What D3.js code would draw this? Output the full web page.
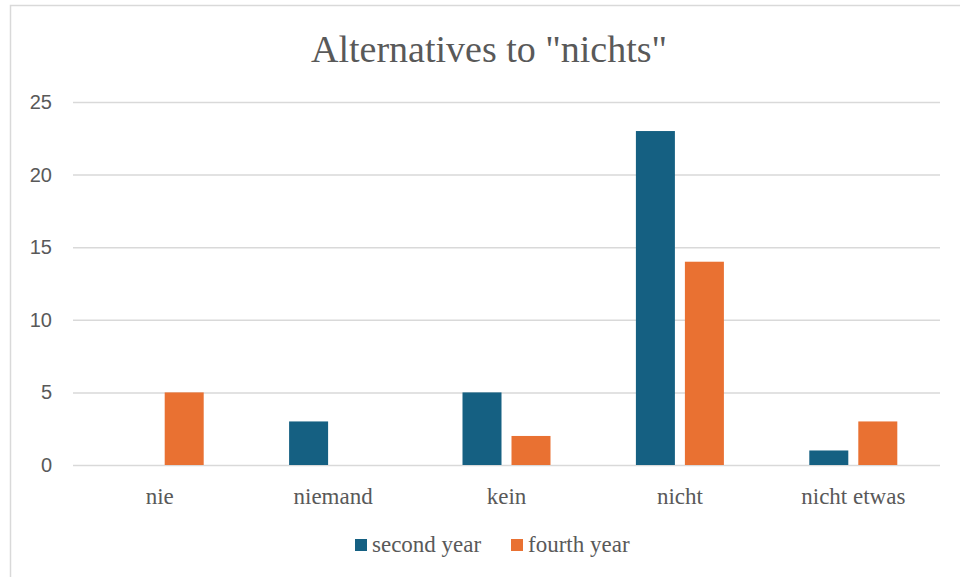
<!DOCTYPE html>
<html><head><meta charset="utf-8">
<script src="https://cdn.jsdelivr.net/npm/d3@7"></script>
<style>
html,body{margin:0;padding:0;background:#fff;overflow:hidden}
.serif{font-family:"Liberation Serif","Times New Roman",serif}
.sans{font-family:"Liberation Sans",Arial,sans-serif}
</style>
</head><body>
<svg id="c" width="960" height="577"></svg>
<script>
const categories = ["nie", "niemand", "kein", "nicht", "nicht etwas"];
const seriesNames = ["second year", "fourth year"];
const secondYear = [0, 3, 5, 23, 1];
const fourthYear = [5, 0, 2, 14, 3];
const yTicks = [0, 5, 10, 15, 20, 25];
const colors = ["#156082", "#E97132"];
const titleText = 'Alternatives to "nichts"';

(function () {
const svg = d3.select("#c");
svg.append("rect").attr("x", 10.5).attr("y", 5.5).attr("width", 1000).attr("height", 1000)
  .attr("fill", "#fff").attr("stroke", "#D9D9D9").attr("stroke-width", 1.5);

const mLeft = 73, mRight = 940, mTop = 102, mBottom = 465;
const x0 = d3.scaleBand().domain(categories).range([mLeft, mRight]).paddingInner(0.4925).paddingOuter(0.4925/2);
const x1 = d3.scaleBand().domain(seriesNames).range([0, x0.bandwidth()]).paddingInner(10/49).paddingOuter(0);
const y = d3.scaleLinear().domain([0, 25]).range([mBottom, mTop]);

const yAxis = d3.axisLeft(y).tickValues(yTicks).tickSize(-(mRight - mLeft)).tickPadding(21).tickFormat(d3.format("d"));
const ga = svg.append("g").attr("transform", `translate(${mLeft},0)`).call(yAxis);
ga.attr("font-family", null).attr("font-size", null);
ga.select(".domain").remove();
ga.selectAll(".tick line").attr("stroke", "#D9D9D9").attr("stroke-width", 1.5);
ga.selectAll(".tick text").attr("class", "sans").attr("fill", "#595959").style("font-size", "20px");

const data = categories.map((c, i) => ({cat: c, vals: [secondYear[i], fourthYear[i]]}));
const groups = svg.append("g").selectAll("g").data(data).join("g")
  .attr("transform", d => `translate(${x0(d.cat)},0)`);
groups.selectAll("rect").data(d => d.vals.map((v, j) => ({s: seriesNames[j], v, j})).filter(e => e.v > 0))
  .join("rect")
  .attr("x", e => x1(e.s)).attr("width", x1.bandwidth())
  .attr("y", e => y(e.v)).attr("height", e => y(0) - y(e.v))
  .attr("fill", e => colors[e.j]);

const xAxis = d3.axisBottom(x0).tickSize(0).tickPadding(23);
const gx = svg.append("g").attr("transform", `translate(0,${mBottom})`).call(xAxis);
gx.attr("font-family", null).attr("font-size", null);
gx.select(".domain").remove();
gx.selectAll(".tick text").attr("class", "serif").attr("fill", "#595959").style("font-size", "23px");

svg.append("text").attr("class", "serif").attr("x", 489).attr("y", 62).attr("text-anchor", "middle")
  .attr("fill", "#595959").style("font-size", "38px")
  .text(titleText);

const legendX = [355, 511];
const lg = svg.append("g").selectAll("g").data(seriesNames).join("g")
  .attr("transform", (d, i) => `translate(${legendX[i]},539)`);
lg.append("rect").attr("width", 12).attr("height", 12).attr("fill", (d, i) => colors[i]);
lg.append("text").attr("class", "serif").attr("x", 17).attr("y", 13).attr("fill", "#595959")
  .style("font-size", "23px").text(d => d);
})();
</script>
</body></html>
